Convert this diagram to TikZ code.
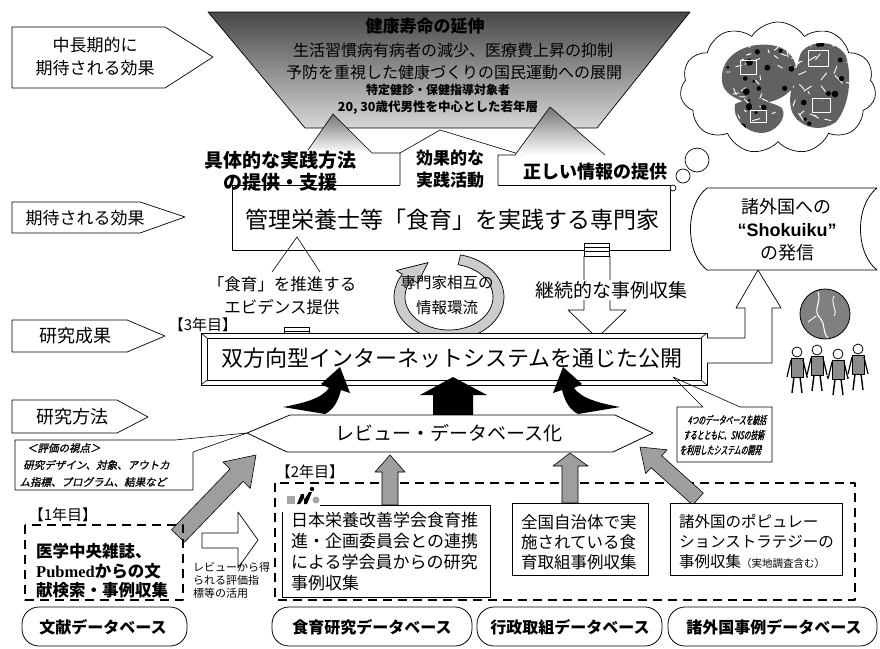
\documentclass[tikz,border=0pt]{standalone}
\usepackage{fontspec}
\setmainfont{Noto Sans CJK JP}
\newfontfamily\jpslant{Noto Sans CJK JP}[FakeBold=1.2]
\newfontfamily\jpnarrow{Noto Sans CJK JP}[FakeStretch=0.62,FakeBold=1.2]
\newfontfamily\serifface{Liberation Serif}
\newfontfamily\arialface{Liberation Sans}
\usetikzlibrary{shapes.symbols}
\newcommand\jfs[2]{\fontsize{#1pt}{#2pt}\selectfont}

\begin{document}
\begin{tikzpicture}[x=1pt,y=-1pt,line join=round,
  lbl/.style={draw,line width=0.7pt,fill=white},
  tx/.style={inner sep=0pt,align=center},
  txl/.style={inner sep=0pt,align=left,anchor=west},
  dashbox/.style={line width=1.6pt,dash pattern=on 9pt off 6pt},
  grayarrow/.style={draw,line width=0.6pt,fill=black!38},
  dbshape/.style={draw,line width=0.8pt,rounded corners=17pt},
  person/.pic={
    \draw[line width=0.8pt,fill=white] (0,5) circle (5);
    \draw[line width=0.8pt,fill=black!45] (-6,11) rectangle (6,30);
    \draw[line width=1.4pt] (-3,30) -- (-5,46) (3,30) -- (5,46);
    \draw[line width=1.2pt] (-6,13) -- (-10,30) (6,13) -- (10,30);
  }]
\fill[white] (0,0) rectangle (880,648);
\useasboundingbox (0,0) rectangle (880,648);

% ---------- left-hand stage labels ----------
\draw[lbl] (12,27) -- (165,27) -- (213,57) -- (165,88) -- (12,88) -- cycle;
\node[tx,font=\jfs{17}{23}] (lab1) at (95,57) {中長期的に\\期待される効果};
\draw[lbl] (12,202) -- (140,202) -- (185,217) -- (140,233) -- (12,233) -- cycle;
\node[tx,font=\jfs{17}{20}] (lab2) at (85,218) {期待される効果};
\draw[lbl] (12,320) -- (127,320) -- (165,336) -- (127,352) -- (12,352) -- cycle;
\node[tx,font=\jfs{18}{20}] (lab3) at (75,336) {研究成果};
\draw[lbl] (12,400) -- (117,400) -- (148,417) -- (117,433) -- (12,433) -- cycle;
\node[tx,font=\jfs{18}{20}] (lab4) at (72,417) {研究方法};

% ---------- long-term goals (inverted trapezoid) ----------
\shade[top color=black!72,bottom color=black!16] (208,12) -- (690,12) -- (597,128) -- (305,128) -- cycle;
\draw[line width=0.7pt] (208,12) -- (690,12) -- (597,128) -- (305,128) -- cycle;
\node[tx,font=\jfs{17}{20}\bfseries] (goal1) at (425,26) {健康寿命の延伸};
\node[tx,font=\jfs{16}{20}] (goal2) at (453,50) {生活習慣病有病者の減少、医療費上昇の抑制};
\node[tx,font=\jfs{16}{20}] (goal3) at (454,72) {予防を重視した健康づくりの国民運動への展開};
\node[tx,font=\jfs{12}{14}\bfseries] (goal4) at (438,90) {特定健診・保健指導対象者};
\node[tx,font=\jfs{12.5}{14}\bfseries] (goal5) at (438,108) {20, 30歳代男性を中心とした若年層};

% ---------- expert box and its three callouts ----------
\draw[line width=0.7pt] (400,185) -- (232,185) -- (232,250) -- (670,250) -- (670,185) -- (498,185);
\node[tx,font=\jfs{23}{26}] (expert) at (452,220) {管理栄養士等「食育」を実践する専門家};

\shade[top color=black!55,bottom color=white] (308,150) -- (333,114) -- (372,153) -- cycle;
\draw[line width=0.6pt] (308,150) -- (333,114) -- (372,153) -- (400,153) -- (400,185);
\node[tx,font=\jfs{19}{22}\bfseries] (call1) at (280,171) {具体的な実践方法\\の提供・支援};

\draw[line width=0.6pt] (400,153) -- (440,130) -- (522,155);
\node[tx,font=\jfs{17}{22}\bfseries] (call2) at (450,169) {効果的な\\実践活動};

\shade[top color=black!55,bottom color=white] (515,155) -- (550,107) -- (605,155) -- cycle;
\draw[line width=0.6pt] (498,185) -- (498,155) -- (515,155) -- (550,107) -- (605,155);
\node[tx,font=\jfs{18}{20}\bfseries] (call3) at (595,172) {正しい情報の提供};

% ---------- thought cloud with illustration ----------
\node[cloud,draw,line width=0.7pt,cloud puffs=11,cloud puff arc=115,aspect=1.5,
      minimum width=196pt,minimum height=132pt,inner sep=0pt] (cloud) at (778,88) {};
\begin{scope}
  \clip (722,80) .. controls (720,56) and (745,42) .. (770,45) .. controls (790,47) and (800,62) .. (795,82) .. controls (790,100) and (760,108) .. (742,101) .. controls (730,96) and (722,90) .. (722,80) -- cycle
        (800,55) .. controls (806,40) and (836,38) .. (846,56) .. controls (852,76) and (850,105) .. (836,122) .. controls (820,133) and (800,128) .. (792,112) .. controls (786,95) and (796,72) .. (800,55) -- cycle
        (735,104) .. controls (745,98) and (770,100) .. (782,108) .. controls (788,118) and (775,134) .. (760,133) .. controls (745,132) and (732,118) .. (735,104) -- cycle;
  \fill[black!62] (715,35) rectangle (855,140);
  \pgfmathsetseed{11}
  \foreach \i in {1,...,70}{
    \pgfmathsetmacro\px{720+130*rnd}
    \pgfmathsetmacro\py{40+95*rnd}
    \pgfmathsetmacro\qx{\px+16*rnd-8}
    \pgfmathsetmacro\qy{\py+16*rnd-8}
    \draw[white,line width=0.9pt] (\px,\py) -- (\qx,\qy);
  }
  \foreach \i in {1,...,40}{
    \pgfmathsetmacro\px{720+130*rnd}
    \pgfmathsetmacro\py{40+95*rnd}
    \fill[black] (\px,\py) circle (1.5+2*rnd);
  }
  \draw[white,line width=1pt] (740,60) rectangle (756,74) (808,50) rectangle (828,66) (812,98) rectangle (830,112) (750,110) rectangle (766,122);
\end{scope}
\draw[line width=0.7pt,fill=white] (697,160) circle (12);
\draw[line width=0.7pt,fill=white] (683,176) circle (7);
\draw[line width=0.7pt,fill=white] (673,188) circle (3);

% ---------- overseas dissemination ----------
\draw[line width=0.8pt] (707,188) -- (877,188) .. controls (855,205) and (855,253) .. (877,270) -- (707,270) .. controls (685,253) and (685,205) .. (707,188) -- cycle;
\node[tx,font=\jfs{18}{20}] (sho1) at (786,207) {諸外国への};
\node[tx,font=\arialface\bfseries\fontsize{18pt}{20pt}\selectfont] (sho2) at (787,230) {“Shokuiku”};
\node[tx,font=\jfs{18}{20}] (sho3) at (787,253) {の発信};

% ---------- evidence callout, information cycle, continuous collection ----------
\draw[line width=0.6pt] (272,272) -- (297,237) -- (320,272);
\node[tx,font=\jfs{16.5}{23}] (evid) at (282,296) {「食育」を推進する\\エビデンス提供};
\draw[line width=0.6pt,fill=white] (284,327) rectangle (309,339);
\draw[line width=0.5pt] (284,331) -- (309,331) (284,335) -- (309,335);

\draw[line width=0.7pt,fill=black!20]
  plot[domain=78:-212,samples=60] ({449+55*cos(\x)},{297-43*sin(\x)})
  -- ({449+62*cos(-212)},{297-50*sin(-212)})
  -- ({449+49.5*cos(-245)},{297-38*sin(-245)})
  -- ({449+37*cos(-212)},{297-26*sin(-212)})
  -- plot[domain=-212:78,samples=60] ({449+44*cos(\x)},{297-33*sin(\x)}) -- cycle;
\node[tx,font=\jfs{15.5}{25}] (cycle) at (447,295) {専門家相互の\\情報環流};

\draw[line width=0.7pt,fill=white] (584,256) -- (584,310) -- (568,310) -- (597,338) -- (626,310) -- (610,310) -- (610,256);
\draw[line width=0.6pt,fill=white] (584,243) rectangle (609,256);
\draw[line width=0.5pt] (584,247) -- (609,247) (584,251) -- (609,251);
\node[tx,font=\jfs{19}{21},fill=white,inner sep=1pt] (collect) at (611,290) {継続的な事例収集};

% ---------- interactive internet system ----------
\node[tx,font=\jfs{15}{17}] (y3) at (203,325) {【3年目】};
\draw[line width=0.8pt,fill=white] (201,333) rectangle (707,385);
\draw[line width=0.7pt] (207,338) rectangle (701,380);
\draw[line width=0.6pt] (201,333) -- (207,338) (707,333) -- (701,338) (201,385) -- (207,380) (707,385) -- (701,380);
\node[tx,font=\jfs{22}{24}] (system) at (452,358) {双方向型インターネットシステムを通じた公開};

\draw[line width=0.7pt,fill=white] (707,338) -- (745,338) -- (745,308) -- (736,308) -- (758,270) -- (781,308) -- (772,308) -- (772,363) -- (707,363);

% globe and people
\fill[black!50] (825,314) circle (25);
\draw[white,line width=1.1pt] (818,292) .. controls (822,302) and (812,310) .. (820,318) .. controls (826,325) and (822,332) .. (828,338);
\draw[white,line width=0.9pt] (834,296) .. controls (830,304) and (838,310) .. (834,316) (808,322) -- (816,316);
\draw[line width=0.8pt] (825,314) circle (25);
\pic at (797,347) {person};
\pic at (817,345) {person};
\pic at (838,349) {person};
\pic at (858,344) {person};
\draw[line width=1pt] (807,376) -- (807,378) (827,376) -- (828,378) (848,377) -- (848,378);

% ---------- review / database ----------
\fill (283,407) .. controls (305,403) and (322,398) .. (329,388) -- (321,384) -- (340,367) -- (350,393) -- (341,390) .. controls (338,402) and (333,410) .. (325,414) -- cycle;
\fill (620,407) .. controls (598,403) and (581,398) .. (574,388) -- (582,384) -- (563,367) -- (553,393) -- (562,390) .. controls (565,402) and (570,410) .. (578,414) -- cycle;
\fill (433,416) -- (433,395) -- (420,395) -- (453,377) -- (487,395) -- (473,395) -- (473,416) -- cycle;

\draw[line width=0.8pt,fill=white] (247,433) -- (290,415) -- (615,415) -- (653,433) -- (613,452) -- (287,452) -- cycle;
\node[tx,font=\jfs{19}{21}] (review) at (449,433) {レビュー・データベース化};

% callout: four databases (slanted lettering)
\draw[line width=0.6pt] (673,377) -- (703,407) -- (677,407) -- (677,462) -- (772,462) -- (772,407) -- (740,407) -- (673,377);
\begin{scope}[shift={(724.5,435)},xslant=0.22]
  \node[tx,transform shape,font=\jpnarrow\fontsize{11pt}{15pt}\selectfont] (note4) at (0,0) {4つのデータベースを統括\\するとともに、SNSの技術\\を利用したシステムの開発};
\end{scope}

% callout: evaluation viewpoint (slanted lettering)
\draw[line width=0.6pt] (175,440) -- (247,433) -- (193,452) -- (193,490) -- (15,490) -- (15,440) -- (175,440);
\begin{scope}[shift={(24,465)},xslant=0.22]
  \node[txl,transform shape,font=\jpslant\fontsize{10.5pt}{17pt}\selectfont] (eval) at (0,0) {＜評価の視点＞\\研究デザイン、対象、アウトカ\\ム指標、プログラム、結果など};
\end{scope}

% gray arrow from the literature search
\draw[grayarrow] (171.5,529.8) -- (230.1,469.0) -- (222.9,462.0) -- (256,455) -- (250.3,488.4) -- (243.1,481.4) -- (184.5,542.2) -- cycle;

% ---------- year 1 ----------
\node[tx,font=\jfs{15}{17}] (y1) at (63,515) {【1年目】};
\draw[dashbox] (25,525) rectangle (183,600);
\node[txl,font=\jfs{16.5}{19.5}\bfseries] (lit) at (36,571) {医学中央雑誌、\\{\serifface\bfseries Pubmed}からの文\\献検索・事例収集};

\draw[line width=0.7pt,fill=white] (202,533) -- (238,533) -- (238,512) -- (258,540) -- (238,568) -- (238,548) -- (202,548) -- cycle;
\node[txl,font=\jfs{11}{13}] (use) at (193,580) {レビューから得\\られる評価指\\標等の活用};

% ---------- year 2 ----------
\node[tx,font=\jfs{15}{17}] (y2) at (310,472) {【2年目】};
\draw[dashbox] (275,483) rectangle (855,600);
\draw[grayarrow] (382,505) -- (382,472) -- (375,472) -- (390,455) -- (405,472) -- (398,472) -- (398,505) -- cycle;
\draw[grayarrow] (562,503) -- (562,466) -- (553,466) -- (570,453) -- (588,466) -- (578,466) -- (578,503) -- cycle;
\draw[grayarrow] (692.7,505) -- (651.1,467.7) -- (645.7,473.6) -- (640,447) -- (667.1,449.8) -- (661.7,455.7) -- (703.3,493) -- cycle;

% society logo
\fill[black!35] (287,496) rectangle (295,504);
\fill (297,504) -- (301,494) -- (304,494) -- (304,500) -- (309,492) -- (312,492) -- (307,504) -- (304,504) -- (304,498) -- (300,504) -- cycle;
\fill (312,489) circle (2.2);
\fill[black!35] (316,500) circle (3.5);
\draw[line width=0.6pt,fill=white] (320,505) -- (490,505) -- (490,597) -- (282,597) -- (282,512);
\node[txl,font=\jfs{17}{21}] (boxA) at (291,551.5) {日本栄養改善学会食育推\\進・企画委員会との連携\\による学会員からの研究\\事例収集};

\draw[line width=0.6pt,fill=white] (512,503) rectangle (648,575);
\node[txl,font=\jfs{16.5}{20}] (boxB) at (521,542) {全国自治体で実\\施されている食\\育取組事例収集};

\draw[line width=0.6pt,fill=white] (670,503) rectangle (842,575);
\node[txl,font=\jfs{15.5}{20}] (boxC) at (679,542) {諸外国のポピュレー\\ションストラテジーの\\事例収集{\jfs{10.5}{12}（実地調査含む）}};

% ---------- databases ----------
\draw[dbshape] (22,607) rectangle (187,646);
\node[tx,font=\jfs{16}{18}\bfseries] (db1) at (103,627) {文献データベース};
\draw[dbshape] (272,607) rectangle (472,646);
\node[tx,font=\jfs{16}{18}\bfseries] (db2) at (372,627) {食育研究データベース};
\draw[dbshape] (477,607) rectangle (662,646);
\node[tx,font=\jfs{16}{18}\bfseries] (db3) at (570,627) {行政取組データベース};
\draw[dbshape] (668,607) rectangle (877,646);
\node[tx,font=\jfs{16}{18}\bfseries] (db4) at (774,627) {諸外国事例データベース};
\end{tikzpicture}
\end{document}
